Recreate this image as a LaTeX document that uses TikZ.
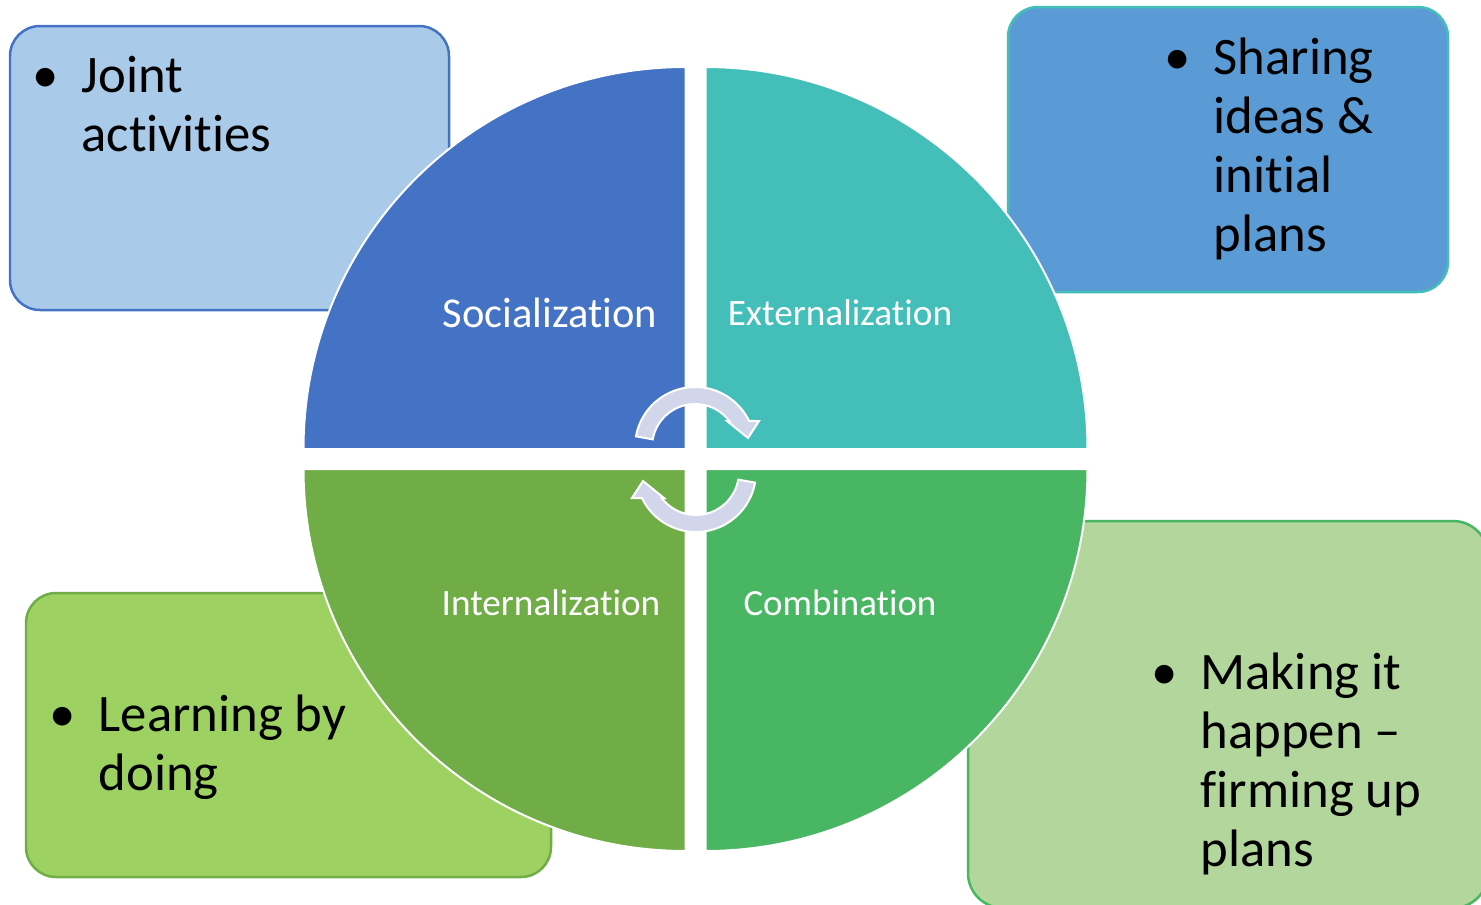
\documentclass[tikz,border=0pt]{standalone}
\usepackage{fontspec}
\setmainfont{Carlito}[Ligatures={NoCommon,NoContextual,NoRare}]
\usepackage{tikz}
\usetikzlibrary{positioning}
\definecolor{kmSocial}{HTML}{4472C4}
\definecolor{kmExtern}{HTML}{43BEB8}
\definecolor{kmCombine}{HTML}{48B663}
\definecolor{kmIntern}{HTML}{70AD47}
\definecolor{kmSocialPale}{HTML}{A9CAE8}
\definecolor{kmExternPale}{HTML}{5B9BD5}
\definecolor{kmCombinePale}{HTML}{B2D69B}
\definecolor{kmInternPale}{HTML}{9DD262}
\definecolor{kmTurn}{HTML}{D1D6EB}

\begin{document}
\begin{tikzpicture}[x=0.1mm,y=-0.1mm,
  box/.style={line width=0.25mm,rounded corners=3mm},
  quad/.style={draw=white,line width=0.2mm},
  qlabel/.style={text=white,anchor=base,inner sep=0pt},
  note/.style={anchor=base west,inner sep=0pt,
               font=\fontsize{15}{16.8}\selectfont},
  turn/.style={fill=kmTurn,draw=white,line width=0.2mm}]

\useasboundingbox (0,0) rectangle (1481,905);

% outer boxes, behind the wheel
\path[box,draw=kmSocial,fill=kmSocialPale]   (10,26)   rectangle (449,310);
\path[box,draw=kmExtern,fill=kmExternPale]   (1008,7)  rectangle (1448,292);
\path[box,draw=kmCombine,fill=kmCombinePale,rounded corners=3.5mm]
     (968,521) rectangle (1488,908);
\path[box,draw=kmIntern,fill=kmInternPale]   (26,593)  rectangle (551,877);

% the four quadrants
\filldraw[quad,fill=kmSocial]  (685.5,449) -- ++(-382,0)
   arc[start angle=180,end angle=270,radius=382] -- cycle;
\filldraw[quad,fill=kmExtern]  (705.5,449) -- ++(0,-382)
   arc[start angle=270,end angle=360,radius=382] -- cycle;
\filldraw[quad,fill=kmCombine] (705.5,469) -- ++(382,0)
   arc[start angle=0,end angle=90,radius=382] -- cycle;
\filldraw[quad,fill=kmIntern]  (685.5,469) -- ++(0,382)
   arc[start angle=90,end angle=180,radius=382] -- cycle;

\node[qlabel,font=\fontsize{12.1}{14}\selectfont] (soc)  at (550,327) {Socialization};
\node[qlabel,font=\fontsize{10.6}{12}\selectfont] (ext)  at (840,325) {Externalization};
\node[qlabel,font=\fontsize{10.6}{12}\selectfont] (int)  at (551,615) {Internalization};
\node[qlabel,font=\fontsize{10.5}{12}\selectfont] (comb) at (840,615) {Combination};

% circular arrows in the middle
\filldraw[turn] (695,447) ++(190.2:60)
   arc[start angle=190.2,end angle=334.3,radius=60]
   -- (759,421) -- (748,438) -- (727,421) -- (729.3,421)
   arc[start angle=322.8,end angle=190.2,radius=43] -- cycle;
\begin{scope}[rotate around={180:(695.5,459.5)}]
\filldraw[turn] (695,447) ++(190.2:60)
   arc[start angle=190.2,end angle=334.3,radius=60]
   -- (759,421) -- (748,438) -- (727,421) -- (729.3,421)
   arc[start angle=322.8,end angle=190.2,radius=43] -- cycle;
\end{scope}

% bullet texts
\node[note] (joint) at (81,92)
  {\llap{\makebox[7.2mm]{\textbullet}}\begin{tabular}[t]{@{}l@{}}Joint\\activities\end{tabular}};
\node[note] (sharing) at (1213,74)
  {\llap{\makebox[7.2mm]{\textbullet}}\begin{tabular}[t]{@{}l@{}}Sharing\\ideas \&\\initial\\plans\end{tabular}};
\node[note] (making) at (1200,689)
  {\llap{\makebox[7.2mm]{\textbullet}}\begin{tabular}[t]{@{}l@{}}Making it\\happen –\\firming up\\plans\end{tabular}};
\node[note] (learning) at (98,731)
  {\llap{\makebox[7.2mm]{\textbullet}}\begin{tabular}[t]{@{}l@{}}Learning by\\doing\end{tabular}};
\end{tikzpicture}
\end{document}
